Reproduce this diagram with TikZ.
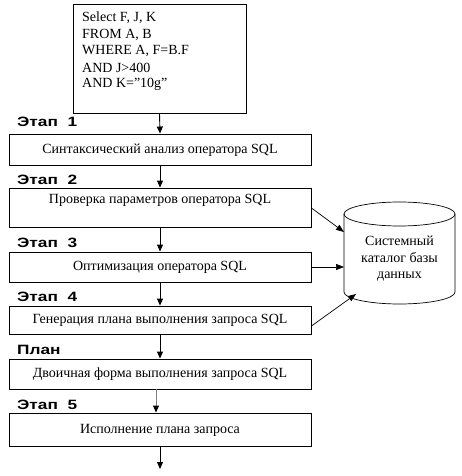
\documentclass[tikz,border=0pt]{standalone}
\usepackage{fontspec}
\setmainfont{Liberation Serif}
\newfontfamily\labfont{Liberation Sans}[FakeStretch=1.28]
\usetikzlibrary{arrows.meta}
\begin{document}
\begin{tikzpicture}[x=1pt,y=-1pt,
  box/.style={draw, line width=0.9pt, minimum width=302pt, inner sep=0pt},
  txt/.style={font=\fontsize{14}{16}\selectfont, inner sep=0pt},
  lab/.style={font=\labfont\bfseries\fontsize{13.5}{14}\selectfont, anchor=west, inner sep=0pt},
  arr/.style={line width=0.9pt, -{Triangle[length=7pt,width=6pt,color=black]}},
  lnk/.style={line width=0.7pt, -{Triangle[length=8pt,width=6pt]}}]
\useasboundingbox (0,0) rectangle (462,476);
% query box
\node[draw, line width=0.9pt, minimum width=173pt, minimum height=109pt, inner sep=0pt] (q) at (159.5,58.5) {};
\node[txt, anchor=west] (ql1) at (82,18) {Select F, J, K};
\node[txt, anchor=west] (ql2) at (82,34.5) {FROM A, B};
\node[txt, anchor=west] (ql3) at (82,51) {WHERE A, F=B.F};
\node[txt, anchor=west] (ql4) at (82,67.5) {AND J>400};
\node[txt, anchor=west] (ql5) at (82,84) {AND K=”10g”};
% stage labels
\node[lab] (l1) at (17,122) {Этап\ \ 1};
\node[lab] (l2) at (17,180) {Этап\ \ 2};
\node[lab] (l3) at (17,243) {Этап\ \ 3};
\node[lab] (l4) at (17,297) {Этап\ \ 4};
\node[lab] (l5) at (17,350) {План};
\node[lab] (l6) at (17,405) {Этап\ \ 5};
% boxes
\node[box, minimum height=31pt] (b1) at (160,149.5) {};
\node[txt] (t1) at (160,150) {Синтаксический анализ оператора SQL};
\node[box, minimum height=39pt] (b2) at (160,207.5) {};
\node[txt] (t2) at (160,200) {Проверка параметров оператора SQL};
\node[box, minimum height=30pt] (b3) at (160,267) {};
\node[txt] (t3) at (160,267) {Оптимизация оператора SQL};
\node[box, minimum height=28pt] (b4) at (160,320) {};
\node[txt] (t4) at (160,320) {Генерация плана выполнения запроса SQL};
\node[box, minimum height=30pt] (b5) at (160,374) {};
\node[txt] (t5) at (160,374) {Двоичная форма выполнения запроса SQL};
\node[box, minimum height=33pt] (b6) at (160,429.5) {};
\node[txt] (t6) at (160,430) {Исполнение плана запроса};
\coordinate (end) at (160,469);
% flow arrows
\draw[arr] (q.south) -- (b1.north);
\draw[arr] (b1.south) -- (b2.north);
\draw[arr] (b2.south) -- (b3.north);
\draw[arr] (b3.south) -- (b4.north);
\draw[arr] (b4.south) -- (b5.north);
\draw[arr, draw=gray] ([xshift=-4pt]b5.south) -- ([xshift=-4pt]b6.north);
\draw[arr] (b6.south) -- (end);
% cylinder
\draw[line width=0.7pt] (344,214) -- (344,292) arc[start angle=180, end angle=360, x radius=55.5pt, y radius=12pt] -- (455,214);
\draw[line width=0.7pt] (399.5,214) ellipse [x radius=55.5pt, y radius=12pt];
\node[txt, align=center, font=\fontsize{14}{16.5}\selectfont] (cat) at (399.5,259) {Системный\\каталог базы\\данных};
\coordinate (c1) at (344,232);
\coordinate (c3) at (356,294);
\draw[lnk] (b2.east |- 0,208) -- (c1);
\draw[lnk] (b3.east) -- (b3.east -| c1);
\draw[lnk] (b4.east |- 0,326) -- (c3);
\end{tikzpicture}
\end{document}
